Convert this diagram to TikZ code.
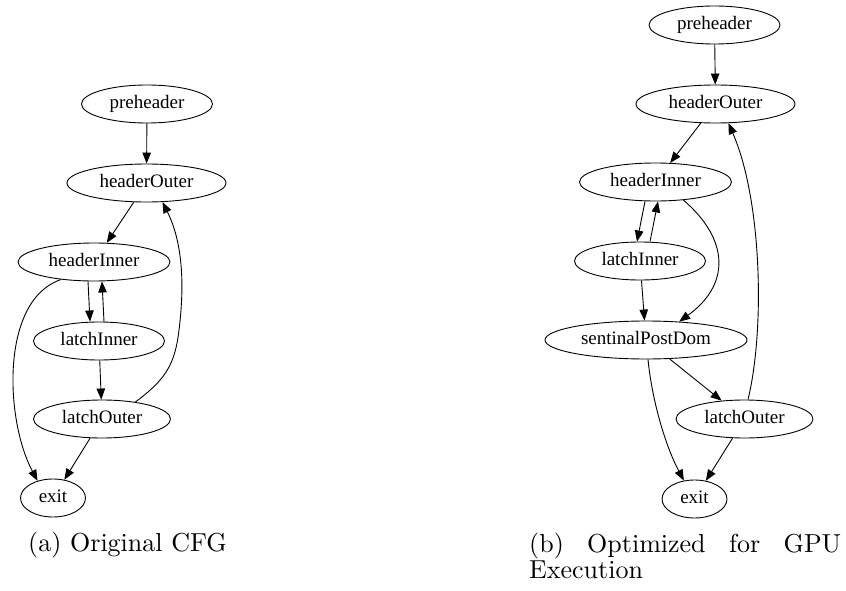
\documentclass[tikz,border=0pt]{standalone}
\usepackage{fontspec}
\newfontfamily\gvfont{Liberation Serif}
\newfontfamily\capfont[Extension=.otf]{lmroman10-regular}
\usetikzlibrary{shapes.geometric,arrows.meta}
\begin{document}
\begin{tikzpicture}[x=1pt,y=-1pt,
  gv/.style={ellipse,draw,line width=0.9pt,inner sep=0pt,minimum height=38pt,
    font=\gvfont\fontsize{19}{22}\selectfont,text height=12.6pt,text depth=3pt},
  gvedge/.style={draw,line width=0.9pt,-{Triangle[length=11pt,width=8.5pt]}},
  captext/.style={font=\capfont\fontsize{26}{26}\selectfont,inner sep=0pt}]
\useasboundingbox (0,0) rectangle (846,591);
% (a) original CFG
\node[gv,minimum width=131pt] (pA)  at (147,104)   {preheader};
\node[gv,minimum width=159pt] (hoA) at (146.5,183) {headerOuter};
\node[gv,minimum width=152pt] (hiA) at (94,262)    {headerInner};
\node[gv,minimum width=131pt] (liA) at (99,341)    {latchInner};
\node[gv,minimum width=137pt] (loA) at (102,419)   {latchOuter};
\node[gv,minimum width=65pt]  (exA) at (53,498)    {exit};
\draw[gvedge] (pA) -- (hoA);
\draw[gvedge] (hoA) -- (hiA);
\draw[gvedge] ([xshift=-6pt]hiA.south) -- ([xshift=-9pt]liA.north);
\draw[gvedge] ([xshift=5pt]liA.north) -- ([xshift=8pt]hiA.south);
\draw[gvedge] (liA) -- (loA);
\draw[gvedge] (loA) -- (exA);
\draw[gvedge] (hiA.-152) .. controls (0,300) and (5,420) .. (exA.132);
\draw[gvedge] (loA.27) .. controls (165,380) and (175,365) .. (179,330)
  .. controls (184,290) and (184,245) .. (hoA.-50);
\node[captext,anchor=base west] (capA) at (28,551) {(a) Original CFG};
% (b) optimized
\node[gv,minimum width=131pt] (pB)  at (714.5,25)  {preheader};
\node[gv,minimum width=159pt] (hoB) at (715.5,104) {headerOuter};
\node[gv,minimum width=152pt] (hiB) at (655.5,182) {headerInner};
\node[gv,minimum width=131pt] (liB) at (640,261)   {latchInner};
\node[gv,minimum width=202pt] (spB) at (646,340)   {sentinalPostDom};
\node[gv,minimum width=137pt] (loB) at (744.5,419) {latchOuter};
\node[gv,minimum width=65pt]  (exB) at (694.5,499) {exit};
\draw[gvedge] (pB) -- (hoB);
\draw[gvedge] (hoB) -- (hiB);
\draw[gvedge] ([xshift=-10.5pt]hiB.south) -- ([xshift=-3pt]liB.north);
\draw[gvedge] ([xshift=10pt]liB.north) -- ([xshift=2.5pt]hiB.south);
\draw[gvedge] (hiB.-33) .. controls (730,240) and (730,285) .. (spB.29);
\draw[gvedge] (liB) -- (spB);
\draw[gvedge] ([xshift=3.5pt]loB.north) .. controls (765,330) and (762,200) .. (hoB.-56);
\draw[gvedge] (spB) -- (loB);
\draw[gvedge] ([xshift=2pt]spB.south) .. controls (652,400) and (665,445) .. (exB.120);
\draw[gvedge] (loB) -- (exB);
\node[captext,anchor=base west] (capB) at (529,552)
  {\parbox[t]{312pt}{\baselineskip=26pt\tolerance=10000\hyphenpenalty=10000 (b) Optimized for GPU Execution}};
\end{tikzpicture}
\end{document}
